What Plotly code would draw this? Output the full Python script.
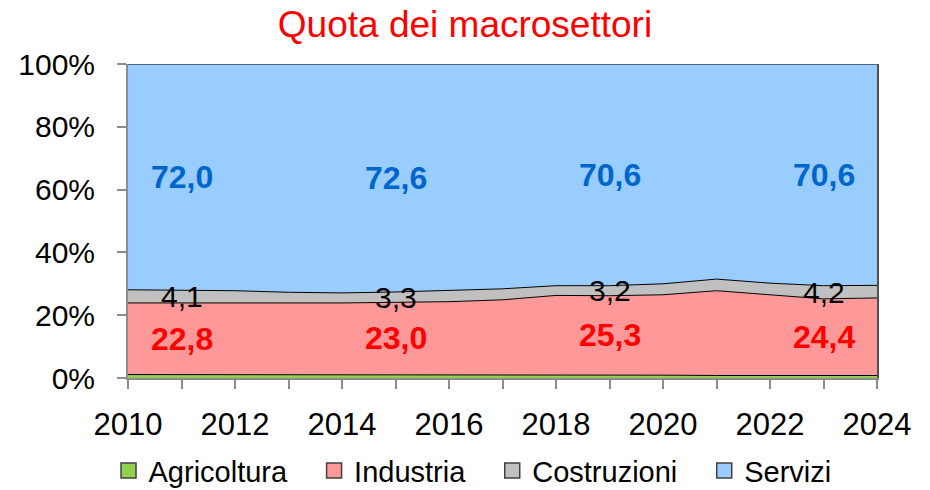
import plotly.graph_objects as go

years = list(range(2010, 2025))
agricoltura = [1.1, 1.1, 1.1, 1.1, 1.1, 1.1, 1.0, 1.0, 0.9, 0.9, 0.9, 0.8, 0.8, 0.8, 0.8]
industria = [22.8, 22.8, 22.6, 22.7, 22.8, 23.0, 23.3, 23.9, 25.4, 25.3, 25.6, 27.0, 25.7, 24.4, 24.7]
costruzioni = [4.2, 4.1, 4.1, 3.5, 3.2, 3.3, 3.5, 3.5, 3.1, 3.2, 3.5, 3.7, 3.7, 4.2, 4.0]
servizi = [71.9, 72.0, 72.2, 72.7, 72.9, 72.6, 72.2, 71.6, 70.6, 70.6, 70.0, 68.5, 69.8, 70.6, 70.5]
label_years = [2011, 2015, 2019, 2023]
x_tick_vals = list(range(2010, 2025, 2))
y_tick_vals = [0, 20, 40, 60, 80, 100]
y_tick_text = ["0%", "20%", "40%", "60%", "80%", "100%"]

FONT = "Liberation Sans, Arial, sans-serif"
PAD = "\u00a0\u00a0\u2009"

series = [
    ("Agricoltura", agricoltura, "#92D050"),
    ("Industria", industria, "#FF9999"),
    ("Costruzioni", costruzioni, "#C0C0C0"),
    ("Servizi", servizi, "#99CCFF"),
]

fig = go.Figure()
for name, vals, col in series:
    fig.add_trace(go.Scatter(
        x=years, y=vals, name=name, mode="lines",
        stackgroup="one", fillcolor=col,
        line=dict(color="black", width=1),
        hoverinfo="x+y+name", showlegend=False,
    ))

# legend entries as square swatches
for k, (name, vals, col) in enumerate(series):
    pad = PAD if k < len(series) - 1 else ""
    fig.add_trace(go.Scatter(
        x=[None], y=[None], name=name + pad, mode="markers",
        marker=dict(symbol="square", size=15, color=col, line=dict(color="#404040", width=1.5)),
        showlegend=True,
    ))

# invisible trace on a right axis to draw the plot's right border
fig.add_trace(go.Scatter(x=[years[0]], y=[0], yaxis="y2", showlegend=False,
                         mode="markers", marker=dict(opacity=0), hoverinfo="skip"))

label_styles = {
    "Industria": dict(color="#FF0000", bold=True),
    "Costruzioni": dict(color="black", bold=False),
    "Servizi": dict(color="#0066CC", bold=True),
}

annotations = []
for ly in label_years:
    i = years.index(ly)
    base = agricoltura[i]
    for name, vals, col in series[1:]:
        v = vals[i]
        mid = base + v / 2
        st = label_styles[name]
        txt = f"{v:.1f}".replace(".", ",")
        if st["bold"]:
            txt = f"<b>{txt}</b>"
        annotations.append(dict(
            x=ly, y=mid, xref="x", yref="y", text=txt, showarrow=False,
            font=dict(family=FONT, size=32 if st["bold"] else 30, color=st["color"]),
            xanchor="center", yanchor="middle",
        ))
        base += v

fig.update_layout(
    width=930, height=490,
    margin=dict(l=128, r=53, t=64, b=112, autoexpand=False),
    paper_bgcolor="white", plot_bgcolor="white",
    title=dict(text="Quota dei macrosettori", x=0.5, xanchor="center", y=0.951, yanchor="middle",
               font=dict(family=FONT, size=37, color="#FF0000")),
    font=dict(family=FONT, size=28, color="black"),
    showlegend=True,
    legend=dict(orientation="h", x=-0.026, xanchor="left", y=-0.295, yanchor="middle",
                font=dict(family=FONT, size=29, color="black"), traceorder="normal",
                itemwidth=30),
    annotations=annotations,
    xaxis=dict(range=[2010, 2024], tickvals=x_tick_vals, ticktext=[str(v) for v in x_tick_vals],
               ticks="outside", ticklen=9, tickcolor="#8C8C8C", tickwidth=2,
               minor=dict(dtick=1, tick0=2010, ticks="outside", ticklen=9, tickcolor="#8C8C8C", tickwidth=2),
               showline=True, linecolor="#8C8C8C", linewidth=2, showgrid=False, zeroline=False,
               automargin=False,
               tickfont=dict(family=FONT, size=31, color="black"), ticklabelstandoff=9),
    yaxis=dict(range=[0, 100], tickvals=y_tick_vals, ticktext=y_tick_text,
               ticks="outside", ticklen=9, tickcolor="#8C8C8C", tickwidth=2,
               showline=True, linecolor="#8C8C8C", linewidth=2, showgrid=False, zeroline=False,
               automargin=False,
               tickfont=dict(family=FONT, size=30, color="black"), ticklabelstandoff=16),
    yaxis2=dict(overlaying="y", side="right", range=[0, 100], showline=True, linecolor="#505050",
                linewidth=2, showticklabels=False, ticks="", showgrid=False, zeroline=False,
                automargin=False),
)

fig.write_html("out.html", config={"displayModeBar": False},
               post_script="document.body.style.margin='0';")
